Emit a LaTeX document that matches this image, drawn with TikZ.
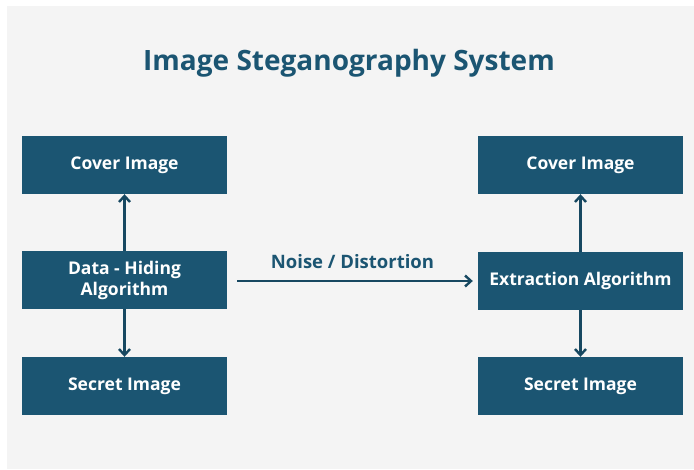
\documentclass[tikz,border=0pt]{standalone}
\usepackage{fontspec}
\setmainfont{Open Sans}
\usetikzlibrary{arrows.meta}
\definecolor{stegblue}{HTML}{1B5572}
\definecolor{steggray}{HTML}{F4F4F4}

\begin{document}
\begin{tikzpicture}[
    x=1pt, y=-1pt,
    blk/.style={rectangle, fill=stegblue, text=white, inner sep=2pt, align=center,
                font=\fontsize{17.5}{21}\selectfont\bfseries,
                minimum width=205pt, minimum height=58pt},
    >={Straight Barb[length=6pt, width=11pt]},
    link/.style={->, line width=2.4pt, draw=stegblue!85!black}
  ]
  \useasboundingbox (0,0) rectangle (694,469);
  % Backdrop
  \fill[steggray] (7,6) rectangle (694,469);
  % Title
  \node[font=\fontsize{28}{32}\selectfont\bfseries, text=stegblue] (title) at (349,63)
    {Image Steganography System};
  % Hiding side
  \node[blk] (coverL) at (124.5,165) {Cover Image};
  \node[blk] (hide) at (124.5,280) {Data - Hiding\\Algorithm};
  \node[blk] (secretL) at (124.5,386) {Secret Image};
  % Extraction side
  \node[blk] (coverR) at (580.5,165) {Cover Image};
  \node[blk] (extract) at (580.5,281) {Extraction Algorithm};
  \node[blk] (secretR) at (580.5,386) {Secret Image};
  % Links
  \draw[link] (hide) -- (coverL);
  \draw[link] (hide) -- (secretL);
  \draw[link] (extract) -- (coverR);
  \draw[link] (extract) -- (secretR);
  \draw[link, shorten <=10pt, shorten >=5pt] (hide.east |- extract) -- (extract.west)
    node[midway, above=8pt, text=stegblue, font=\fontsize{18.5}{22}\selectfont\bfseries] (noise)
    {Noise / Distortion};
\end{tikzpicture}
\end{document}
